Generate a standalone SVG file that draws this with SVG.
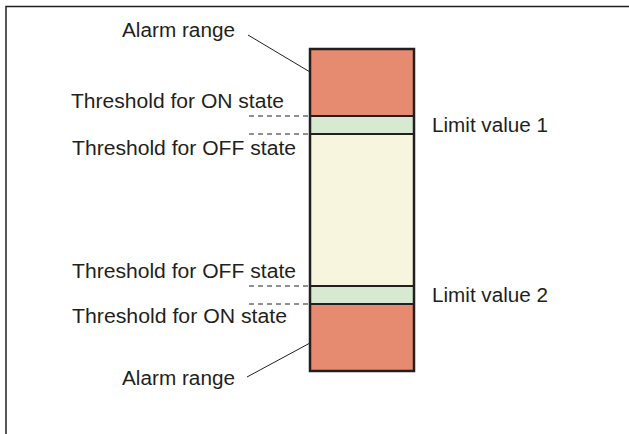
<svg xmlns="http://www.w3.org/2000/svg" width="629" height="434" viewBox="0 0 629 434">
<style>
.t{font-family:"Liberation Sans",Arial,Helvetica,sans-serif;font-size:19.5px;fill:#231f20}
.band{stroke:#231f20;stroke-width:2}
.dash{stroke:#231f20;stroke-width:1;stroke-dasharray:5,4;fill:none}
.lead{stroke:#231f20;stroke-width:1;fill:none}
</style>
<rect width="629" height="434" fill="#ffffff"/>
<path d="M6,434 V6.5 H629" fill="none" stroke="#231f20" stroke-width="1.5"/>
<g id="bar">
<rect x="310" y="49" width="104" height="67" fill="#e68b70"/>
<rect x="310" y="116" width="104" height="18" fill="#d8e9d2"/>
<rect x="310" y="134" width="104" height="152" fill="#f7f5de"/>
<rect x="310" y="286" width="104" height="18" fill="#d8e9d2"/>
<rect x="310" y="304" width="104" height="67" fill="#e68b70"/>
<line class="band" x1="310" y1="116" x2="414" y2="116"/>
<line class="band" x1="310" y1="134" x2="414" y2="134"/>
<line class="band" x1="310" y1="286" x2="414" y2="286"/>
<line class="band" x1="310" y1="304" x2="414" y2="304"/>
<rect x="310" y="49" width="104" height="322" fill="none" stroke="#231f20" stroke-width="2.5"/>
</g>
<g id="connectors">
<line class="lead" x1="248" y1="35" x2="310" y2="72"/>
<line class="lead" x1="247" y1="377" x2="310" y2="343"/>
<line class="dash" x1="249" y1="116" x2="310" y2="116"/>
<line class="dash" x1="249" y1="134" x2="310" y2="134"/>
<line class="dash" x1="249" y1="286" x2="310" y2="286"/>
<line class="dash" x1="249" y1="304" x2="310" y2="304"/>
</g>
<g id="label-alarm-top"><text class="t" x="122" y="37" textLength="113" lengthAdjust="spacingAndGlyphs">Alarm range</text></g>
<g id="label-on-top"><text class="t" x="71" y="108" textLength="213" lengthAdjust="spacingAndGlyphs">Threshold for ON state</text></g>
<g id="label-off-top"><text class="t" x="72" y="155" textLength="224" lengthAdjust="spacingAndGlyphs">Threshold for OFF state</text></g>
<g id="label-limit1"><text class="t" x="432" y="132" textLength="116" lengthAdjust="spacingAndGlyphs">Limit value 1</text></g>
<g id="label-off-bottom"><text class="t" x="72" y="278" textLength="224" lengthAdjust="spacingAndGlyphs">Threshold for OFF state</text></g>
<g id="label-limit2"><text class="t" x="432" y="302" textLength="116" lengthAdjust="spacingAndGlyphs">Limit value 2</text></g>
<g id="label-on-bottom"><text class="t" x="72" y="323" textLength="215" lengthAdjust="spacingAndGlyphs">Threshold for ON state</text></g>
<g id="label-alarm-bottom"><text class="t" x="122" y="385" textLength="113" lengthAdjust="spacingAndGlyphs">Alarm range</text></g>
</svg>
